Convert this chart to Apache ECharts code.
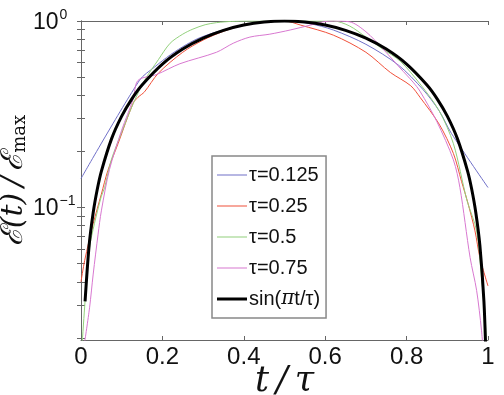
<!DOCTYPE html>
<html>
<head>
<meta charset="utf-8">
<script src="https://cdn.jsdelivr.net/npm/echarts@6/dist/echarts.min.js"></script>
<style>
  html, body { margin: 0; padding: 0; background: #fff; }
  #main { width: 504px; height: 395px; }
</style>
</head>
<body>
<div id="main"></div>
<script>
// data (t/tau, normalised E)
var blueT = [0, 0.144, 0.18, 0.22, 0.26, 0.29, 0.33, 0.38, 0.44, 0.5, 0.56, 0.62, 0.7, 0.78, 0.84, 0.88, 0.91, 1.0];
var blueV = [0.143, 0.482, 0.565, 0.66, 0.75, 0.81, 0.87, 0.93, 0.98, 1.0, 0.97, 0.895, 0.75, 0.58, 0.43, 0.33, 0.25, 0.128];

var redT = [0, 0.009, 0.03, 0.05, 0.066, 0.091, 0.128, 0.14, 0.156, 0.19, 0.25, 0.3, 0.35, 0.4, 0.45, 0.5, 0.54, 0.62, 0.7, 0.76, 0.81, 0.833, 0.88, 0.915, 0.935, 0.951, 0.968, 0.98, 1.0];
var redV = [0.040, 0.052, 0.082, 0.118, 0.158, 0.22, 0.362, 0.39, 0.417, 0.525, 0.68, 0.79, 0.88, 0.95, 0.99, 1.0, 0.95, 0.84, 0.68, 0.53, 0.45, 0.39, 0.28, 0.195, 0.138, 0.105, 0.075, 0.054, 0.038];

var greenT = [0, 0.013, 0.021, 0.033, 0.05, 0.058, 0.074, 0.099, 0.128, 0.156, 0.19, 0.219, 0.25, 0.275, 0.305, 0.333, 0.37, 0.41, 0.5, 0.62, 0.66, 0.7, 0.74, 0.784, 0.833, 0.88, 0.915, 0.948, 0.972, 0.984, 0.993, 0.998];
var greenV = [0.015, 0.039, 0.061, 0.082, 0.115, 0.128, 0.179, 0.25, 0.36, 0.48, 0.62, 0.76, 0.85, 0.905, 0.955, 0.98, 0.995, 1.0, 1.0, 1.0, 0.94, 0.82, 0.71, 0.61, 0.46, 0.33, 0.22, 0.11, 0.075, 0.042, 0.026, 0.012];

var magT = [0.009, 0.021, 0.03, 0.042, 0.05, 0.07, 0.1, 0.128, 0.14, 0.186, 0.243, 0.333, 0.374, 0.415, 0.464, 0.514, 0.563, 0.595, 0.62, 0.66, 0.7, 0.74, 0.784, 0.816, 0.833, 0.874, 0.915, 0.931, 0.956, 0.972, 0.984, 0.99];
var magV = [0.019, 0.029, 0.044, 0.072, 0.096, 0.16, 0.26, 0.38, 0.48, 0.517, 0.59, 0.68, 0.76, 0.82, 0.85, 0.895, 0.95, 0.99, 1.0, 0.99, 0.876, 0.716, 0.56, 0.47, 0.42, 0.29, 0.18, 0.128, 0.054, 0.036, 0.022, 0.015];

var sinT = [0.01, 0.02, 0.03, 0.04, 0.05, 0.075, 0.1, 0.125, 0.15, 0.2, 0.25, 0.3, 0.35, 0.4, 0.45, 0.5, 0.55, 0.6, 0.65, 0.7, 0.75, 0.8, 0.85, 0.875, 0.9, 0.925, 0.95, 0.96, 0.97, 0.98, 0.99, 0.995];
var sinV = [0.0314, 0.0628, 0.0941, 0.1253, 0.1564, 0.2334, 0.309, 0.3827, 0.454, 0.5878, 0.7071, 0.809, 0.891, 0.9511, 0.9877, 1.0, 0.9877, 0.9511, 0.891, 0.809, 0.7071, 0.5878, 0.454, 0.3827, 0.309, 0.2334, 0.1564, 0.1253, 0.0941, 0.0628, 0.0314, 0.0157];

var legendNames = ["τ=0.125", "τ=0.25", "τ=0.5", "τ=0.75", "sin(πt/τ)"];
var xTicks = [0, 0.2, 0.4, 0.6, 0.8, 1];
var yLabels = [0.1, 1];
var yTicks = [0.02, 0.03, 0.04, 0.05, 0.06, 0.07, 0.08, 0.09, 0.1, 0.2, 0.3, 0.4, 0.5, 0.6, 0.7, 0.8, 0.9, 1];

function pairs(t, v) {
  var out = [];
  for (var i = 0; i < t.length; i++) out.push([t[i], v[i]]);
  return out;
}

var sans = "Liberation Sans, Arial, sans-serif";
var serif = "DejaVu Serif, serif";
var axisCol = "#666";

// legend swatches: a plain line, bounding box padded to the icon box
var thinIcon = "path://M0,0h0.01v0.01z M0,9.5h30v1h-30z M0,20h0.01v-0.01z";
var thickIcon = "path://M0,0h0.01v0.01z M0,8.5h30v3h-30z M0,20h0.01v-0.01z";

var chart = echarts.init(document.getElementById("main"));

function line(name, t, v, color, width) {
  return {
    name: name,
    type: "line",
    data: pairs(t, v),
    symbol: "none",
    smooth: 0.3,
    clip: true,
    lineStyle: { color: color, width: width },
    itemStyle: { color: color }
  };
}

chart.setOption({
  animation: false,
  backgroundColor: "#fff",
  grid: { left: 81, right: 16, top: 21, bottom: 55, outerBoundsMode: "none", containLabel: false },
  legend: {
    orient: "vertical",
    left: 212,
    top: 156,
    data: legendNames.map(function (n, i) {
      return { name: n, icon: i === 4 ? thickIcon : thinIcon };
    }),
    itemWidth: 30,
    itemHeight: 20,
    itemGap: 11,
    padding: [9, 6, 9, 5],
    borderColor: "#888",
    borderWidth: 1.5,
    backgroundColor: "#fff",
    itemStyle: { borderWidth: 0 },
    textStyle: {
      fontFamily: sans, fontSize: 20, color: "#111", padding: [0, 0, 0, -3],
      rich: {
        i: { fontFamily: serif, fontStyle: "italic", fontSize: 20, color: "#111" }
      }
    },
    formatter: function (n) {
      return n === "sin(πt/τ)" ? "sin({i|π}t/τ)" : n;
    },
    selectedMode: false
  },
  xAxis: [
    {
      type: "value", min: 0, max: 1, interval: 0.2, position: "bottom",
      axisLine: { lineStyle: { color: axisCol } },
      axisTick: { inside: true, length: 4, lineStyle: { color: axisCol } },
      splitLine: { show: false },
      axisLabel: {
        fontFamily: sans, fontSize: 24, color: "#111", margin: 5,
        customValues: xTicks,
        formatter: function (v) { return String(Math.round(v * 10) / 10); }
      },
      name: "t\u2009/\u2009τ",
      nameLocation: "middle",
      nameGap: 24,
      nameMoveOverlap: false,
      nameTextStyle: { fontFamily: serif, fontStyle: "italic", fontSize: 35, color: "#111" }
    },
    {
      type: "value", min: 0, max: 1, interval: 0.2, position: "top",
      axisLine: { lineStyle: { color: axisCol } },
      axisTick: { inside: true, length: 4, lineStyle: { color: axisCol } },
      axisLabel: { show: false },
      splitLine: { show: false }
    }
  ],
  yAxis: [
    {
      type: "log", logBase: 10, min: 0.0195, max: 1, position: "left",
      axisLine: { show: true, lineStyle: { color: axisCol } },
      axisTick: { inside: true, length: 4, customValues: yTicks, lineStyle: { color: axisCol } },
      splitLine: { show: false },
      axisLabel: {
        customValues: yLabels,
        align: "left",
        margin: 48,
        color: "#111",
        formatter: function (v) {
          return v > 0.5 ? "{b|10}{s|0}" : "{b|10}{s|−1}";
        },
        rich: {
          b: { fontFamily: sans, fontSize: 23, color: "#111", verticalAlign: "bottom" },
          s: { fontFamily: sans, fontSize: 14, color: "#111", verticalAlign: "top", padding: [0, 0, 12, 1] }
        }
      },
      name: "ℰ(t)\u2009/\u2009ℰ{m|max}",
      nameLocation: "middle",
      nameRotate: 90,
      nameGap: 52,
      nameMoveOverlap: false,
      nameTextStyle: {
        fontFamily: serif, fontStyle: "italic", fontSize: 30, color: "#111",
        rich: {
          m: { fontFamily: serif, fontStyle: "normal", fontSize: 18, color: "#111", verticalAlign: "bottom", padding: [12, 0, 0, 0] }
        }
      }
    },
    {
      type: "log", logBase: 10, min: 0.0195, max: 1, position: "right",
      axisLine: { show: true, lineStyle: { color: axisCol } },
      axisTick: { inside: true, length: 4, customValues: yTicks, lineStyle: { color: axisCol } },
      axisLabel: { show: false },
      splitLine: { show: false }
    }
  ],
  series: [
    line(legendNames[0], blueT, blueV, "#7070c8", 1),
    line(legendNames[1], redT, redV, "#f0503a", 1),
    line(legendNames[2], greenT, greenV, "#92d07c", 1),
    line(legendNames[3], magT, magV, "#d878d0", 1),
    line(legendNames[4], sinT, sinV, "#000", 3)
  ]
});
</script>
</body>
</html>
